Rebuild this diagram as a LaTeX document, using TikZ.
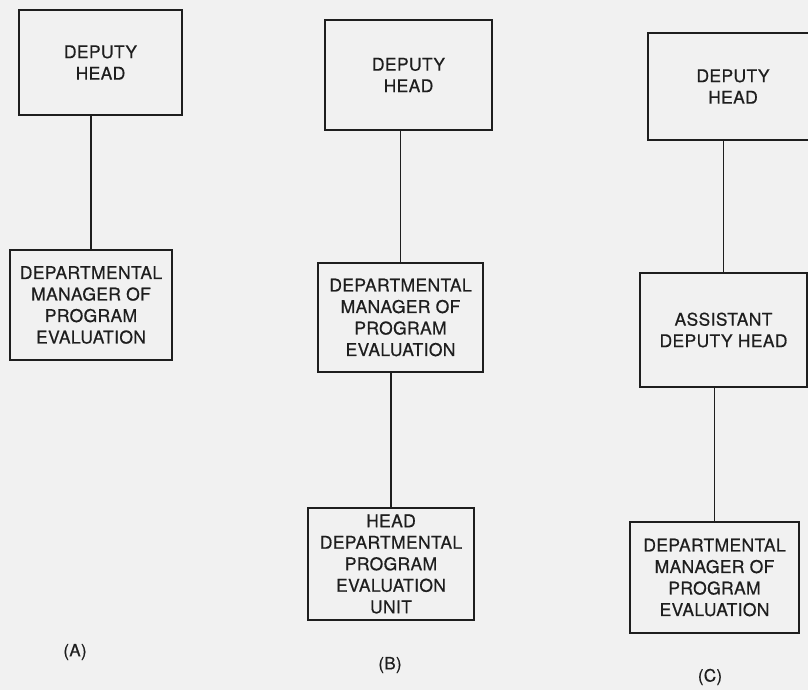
\documentclass[tikz,border=0pt]{standalone}
\usepackage{fontspec}
\setmainfont{TeX Gyre Heros}[FakeBold=0.5,LetterSpace=2]
\definecolor{ink}{RGB}{30,30,30}
\definecolor{paper}{RGB}{241,241,241}
\begin{document}
\begin{tikzpicture}[x=1pt,y=-1pt,
  orgbox/.style={draw=ink, line width=1.4pt, fill=none, text=ink,
    align=center, inner sep=0pt,
    font=\fontsize{17.5}{21.5}\selectfont},
  link/.style={draw=ink, line width=1.4pt},
  caption/.style={text=ink, font=\fontsize{17}{20}\selectfont}]
\useasboundingbox[fill=paper] (0,0) rectangle (808,690);
% (A)
\node[orgbox, minimum width=163pt, minimum height=105pt] (A1) at (100.5,62.5) {DEPUTY\\HEAD};
\node[orgbox, minimum width=162pt, minimum height=110pt] (A2) at (91,305) {DEPARTMENTAL\\MANAGER OF\\PROGRAM\\EVALUATION};
% (B)
\node[orgbox, minimum width=167pt, minimum height=110pt] (B1) at (408.5,75) {DEPUTY\\HEAD};
\node[orgbox, minimum width=165pt, minimum height=109pt] (B2) at (400.5,317.5) {DEPARTMENTAL\\MANAGER OF\\PROGRAM\\EVALUATION};
\node[orgbox, minimum width=166pt, minimum height=112pt] (B3) at (391,564) {HEAD\\DEPARTMENTAL\\PROGRAM\\EVALUATION\\UNIT};
% (C)
\node[orgbox, minimum width=170pt, minimum height=107pt] (C1) at (733,86.5) {DEPUTY\\HEAD};
\node[orgbox, minimum width=167pt, minimum height=114pt] (C2) at (723.5,330) {ASSISTANT\\DEPUTY HEAD};
\node[orgbox, minimum width=169pt, minimum height=111pt] (C3) at (714.5,577.5) {DEPARTMENTAL\\MANAGER OF\\PROGRAM\\EVALUATION};
% connectors
\draw[link] (A1.south -| A2.north) -- (A2.north);
\draw[link] (B1.south -| B2.north) -- (B2.north);
\draw[link] (B2.south -| B3.north) -- (B3.north);
\draw[link] (C1.south -| C2.north) -- (C2.north);
\draw[link] (C2.south -| C3.north) -- (C3.north);
% captions
\node[caption] (capA) at (75,652) {(A)};
\node[caption] (capB) at (390,665) {(B)};
\node[caption] (capC) at (710,677) {(C)};
\end{tikzpicture}
\end{document}
